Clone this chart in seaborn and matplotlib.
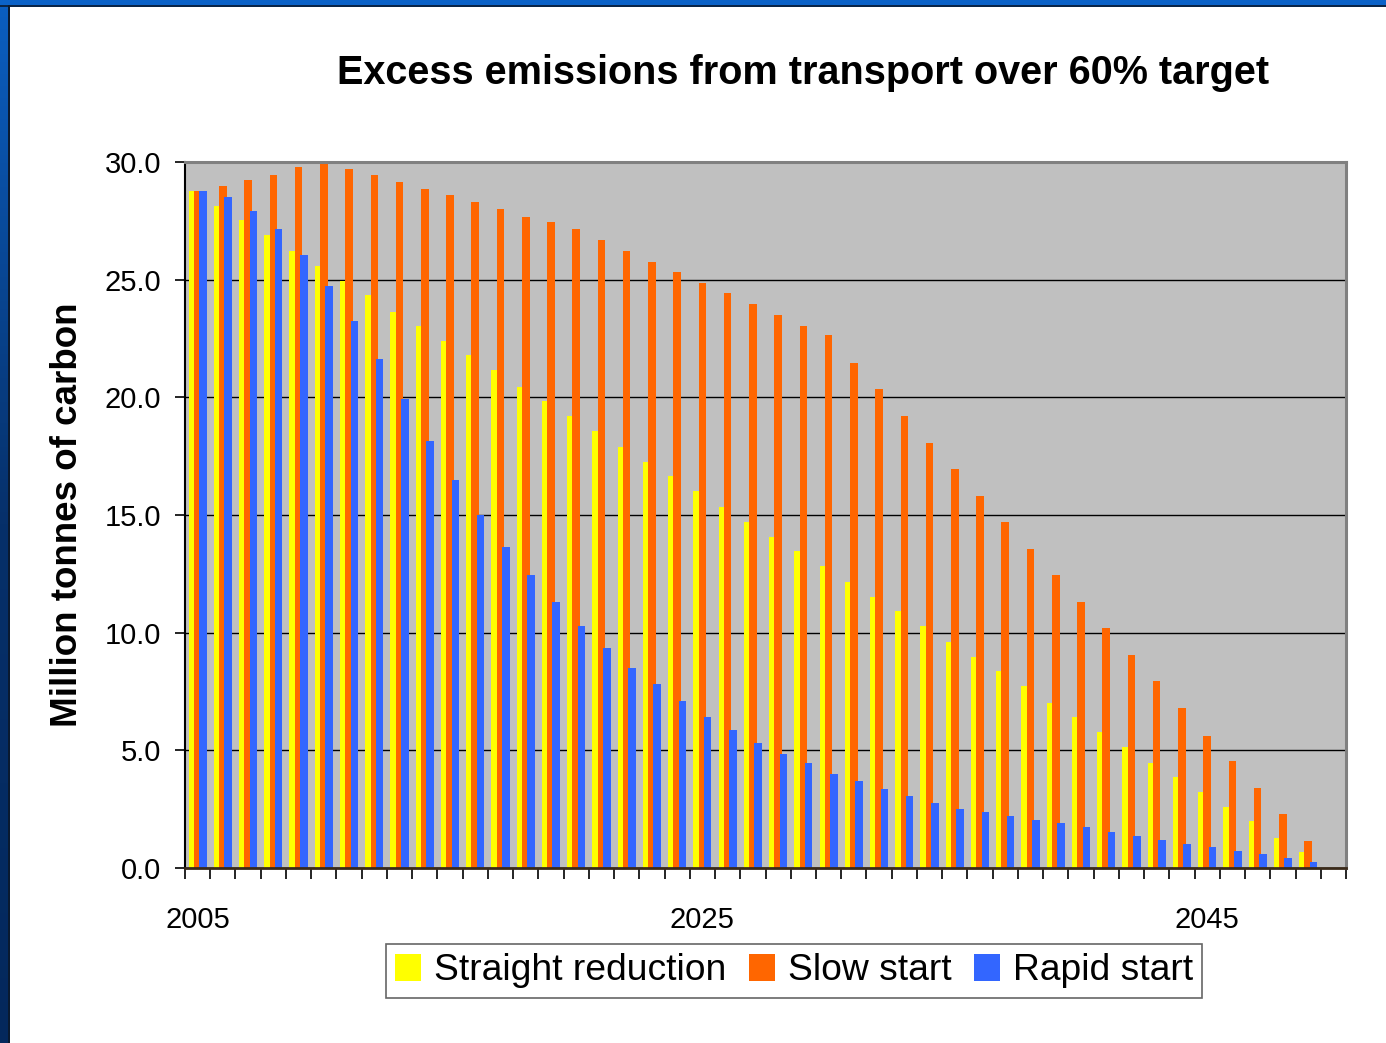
import numpy as np
import pandas as pd
import matplotlib
matplotlib.use("Agg")
import matplotlib.pyplot as plt
from matplotlib.patches import Patch, Rectangle
from matplotlib.colors import LinearSegmentedColormap
from matplotlib.ticker import FixedLocator, FormatStrFormatter
import seaborn as sns

# Excess emissions (million tonnes of carbon), one value per year 2005-2050
years = list(range(2005, 2051))

straight_reduction = [
    28.77, 28.15, 27.52, 26.90, 26.20, 25.58, 24.96, 24.35, 23.64, 23.03,
    22.41, 21.79, 21.16, 20.45, 19.85, 19.22, 18.59, 17.89, 17.27, 16.66,
    16.02, 15.32, 14.70, 14.08, 13.47, 12.84, 12.15, 11.52, 10.90, 10.28,
    9.59, 8.97, 8.35, 7.73, 7.01, 6.40, 5.78, 5.16, 4.46, 3.85,
    3.21, 2.59, 1.98, 1.28, 0.66, 0.0,
]
slow_start = [
    28.77, 29.00, 29.24, 29.46, 29.77, 30.00, 29.69, 29.46, 29.15, 28.84,
    28.61, 28.30, 27.99, 27.68, 27.45, 27.14, 26.67, 26.20, 25.73, 25.34,
    24.87, 24.42, 23.95, 23.48, 23.01, 22.63, 21.46, 20.37, 19.21, 18.05,
    16.96, 15.80, 14.70, 13.54, 12.45, 11.30, 10.20, 9.03, 7.95, 6.78,
    5.62, 4.55, 3.38, 2.29, 1.13, 0.0,
]
rapid_start = [
    28.77, 28.53, 27.92, 27.14, 26.05, 24.73, 23.25, 21.63, 19.93, 18.15,
    16.50, 15.02, 13.62, 12.45, 11.29, 10.28, 9.36, 8.50, 7.80, 7.10,
    6.40, 5.86, 5.31, 4.84, 4.46, 3.99, 3.68, 3.37, 3.06, 2.75,
    2.52, 2.37, 2.21, 2.05, 1.90, 1.74, 1.51, 1.36, 1.20, 1.04,
    0.89, 0.74, 0.58, 0.42, 0.27, 0.0,
]

series_names = ["Straight reduction", "Slow start", "Rapid start"]
series_values = [straight_reduction, slow_start, rapid_start]
series_colors = ["#FFFF00", "#FF6600", "#3366FF"]
label_years = [2005, 2025, 2045]
y_ticks = [0, 5, 10, 15, 20, 25, 30]

title_text = "Excess emissions from transport over 60% target"
y_label = "Million tonnes of carbon"

sns.set_style("white")
plt.rcParams["font.family"] = ["Liberation Sans", "DejaVu Sans"]
plt.rcParams["text.color"] = "black"
plt.rcParams["axes.labelcolor"] = "black"
plt.rcParams["xtick.color"] = "black"
plt.rcParams["ytick.color"] = "black"

fig = plt.figure(figsize=(13.86, 10.43), dpi=100)
fig.patch.set_facecolor("white")

W, H = 1386, 1043
ax = fig.add_axes([185 / W, 1 - 868 / H, (1346 - 185) / W, (868 - 162) / H])
ax.set_facecolor("#C0C0C0")

# Overlapping clustered bars: each series sits a little to the side of the year
bar_width = 0.30
offsets = [-0.21, 0.0, 0.21]
df = pd.DataFrame({"year": years})
for name, vals, col, off in zip(series_names, series_values, series_colors, offsets):
    df["pos"] = np.array(years, dtype=float) + off
    df["value"] = vals
    sns.barplot(data=df, x="pos", y="value", native_scale=True, width=bar_width,
                color=col, saturation=1, errorbar=None, linewidth=0,
                ax=ax, zorder=3)

ax.set_xlim(years[0] - 0.5, years[-1] + 0.5)
ax.set_ylim(0, 30)

# horizontal gridlines
ax.set_yticks(y_ticks)
ax.yaxis.set_major_formatter(FormatStrFormatter("%.1f"))
ax.grid(axis="y", color="black", linewidth=1.0, zorder=1)
ax.set_axisbelow(True)

# category boundary ticks, labels only every twentieth year
ax.xaxis.set_major_locator(FixedLocator([y - 0.5 for y in years] + [years[-1] + 0.5]))
ax.xaxis.set_major_formatter(plt.NullFormatter())
ax.set_xticks(label_years, [str(y) for y in label_years], minor=True)
ax.tick_params(axis="x", which="major", direction="out", length=8, width=1.2,
               color="black", bottom=True)
ax.tick_params(axis="x", which="minor", length=0, pad=27, labelsize=21,
               labelcolor="black")
ax.tick_params(axis="y", direction="out", length=7, width=1.2, color="black",
               left=True, pad=10, labelsize=21, labelcolor="black")

ax.set_xlabel("")
ax.set_ylabel(y_label, fontsize=26.5, fontweight="bold", labelpad=14, color="black")

for side in ["top", "right"]:
    ax.spines[side].set_color("#808080")
    ax.spines[side].set_linewidth(2.2)
    ax.spines[side].set_visible(True)
ax.spines["left"].set_color("black")
ax.spines["left"].set_linewidth(1.5)
ax.spines["bottom"].set_color("#3a2a1a")
ax.spines["bottom"].set_linewidth(2.0)
for s in ax.spines.values():
    s.set_zorder(5)

fig.text(803 / W, 1 - 73 / H, title_text, ha="center", va="center",
         fontsize=28.5, fontweight="bold", color="black")

handles = [Patch(facecolor=c, edgecolor="none") for c in series_colors]
leg = fig.legend(handles, series_names, loc="center", bbox_to_anchor=(794 / W, 1 - 971 / H),
                 ncol=3, fontsize=26.8, frameon=True, fancybox=False, shadow=False,
                 handlelength=0.7, handleheight=0.7, handletextpad=0.35,
                 columnspacing=0.6, borderpad=0.25, borderaxespad=0)
leg.get_frame().set_edgecolor("#404040")
leg.get_frame().set_linewidth(1.2)
for t in leg.get_texts():
    t.set_color("black")

# slide frame: blue strip on top, dark gradient strip on the left
fig.patches.append(Rectangle((0, 1 - 5 / H), 1, 5 / H, transform=fig.transFigure,
                             facecolor="#0B62C8", edgecolor="none", zorder=10))
fig.patches.append(Rectangle((0, 1 - 6.5 / H), 1, 1.5 / H, transform=fig.transFigure,
                             facecolor="#0A2548", edgecolor="none", zorder=10))
side = fig.add_axes([0, 0, 8 / W, 1 - 5 / H])
side.imshow(np.linspace(0, 1, 256).reshape(-1, 1), aspect="auto",
            cmap=LinearSegmentedColormap.from_list("frame", ["#0B5EC0", "#06306A", "#04285C"]))
side.set_axis_off()
fig.patches.append(Rectangle((8 / W, 0), 1.5 / W, 1 - 5 / H, transform=fig.transFigure,
                             facecolor="#0A1A30", edgecolor="none", zorder=10))

fig.savefig("out.png", dpi=100)
